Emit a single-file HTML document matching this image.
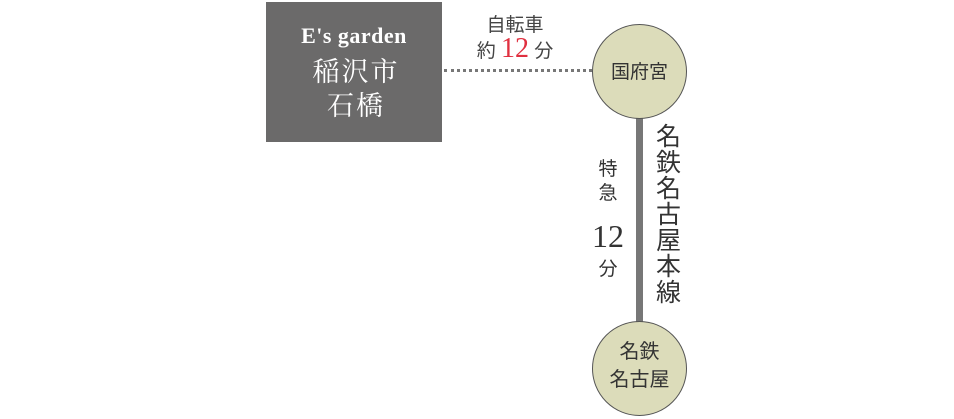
<!DOCTYPE html>
<html><head><meta charset="utf-8"><style>
body{margin:0;width:954px;height:419px;background:#fff;position:relative;overflow:hidden;font-family:"Liberation Serif","Noto Serif CJK SC",serif;}
.a{position:absolute;}
</style></head><body>
<div class="a" style="left:266px;top:2px;width:176px;height:140px;background:#6b6a6a;"></div>
<div class="a" style="left:266px;top:23px;width:176px;text-align:center;color:#fff;font-weight:bold;font-size:22px;letter-spacing:0.5px;">E's garden</div>
<div class="a" style="left:268px;top:55px;width:176px;text-align:center;color:#fff;font-size:27px;line-height:34px;letter-spacing:2px;">稲沢市<br>石橋</div>
<div class="a" style="left:444px;top:69px;width:148px;border-top:3px dotted #777;"></div>
<div class="a" style="left:450px;top:10px;width:130px;text-align:center;color:#444;font-size:19px;font-family:'Liberation Sans','Noto Sans CJK JP',sans-serif;">自転車</div>
<div class="a" style="left:450px;top:33px;width:130px;text-align:center;color:#444;font-size:19px;font-family:'Liberation Sans','Noto Sans CJK JP',sans-serif;">約 <span style="color:#e03040;font-size:28px;font-family:'Liberation Serif',serif;">12</span> 分</div>
<div class="a" style="left:636px;top:116px;width:7px;height:208px;background:#777;"></div>
<div class="a" style="left:592px;top:24px;width:93px;height:93px;border-radius:50%;background:#dcdcba;border:1px solid #555;"></div>
<div class="a" style="left:592px;top:57px;width:95px;text-align:center;color:#333;font-size:19px;font-family:'Liberation Sans','Noto Sans CJK JP',sans-serif;">国府宮</div>
<div class="a" style="left:592px;top:321px;width:93px;height:93px;border-radius:50%;background:#dcdcba;border:1px solid #555;"></div>
<div class="a" style="left:592px;top:338px;width:95px;text-align:center;color:#333;font-size:20px;line-height:28px;font-family:'Liberation Sans','Noto Sans CJK JP',sans-serif;">名鉄<br>名古屋</div>
<div class="a" style="left:656px;top:124px;width:26px;color:#333;font-size:25px;line-height:26px;font-family:'Liberation Sans','Noto Sans CJK JP',sans-serif;">名<br>鉄<br>名<br>古<br>屋<br>本<br>線</div>
<div class="a" style="left:590px;top:158px;width:36px;text-align:center;color:#333;font-size:19px;line-height:24px;font-family:'Liberation Sans','Noto Sans CJK JP',sans-serif;">特<br>急</div>
<div class="a" style="left:584px;top:218px;width:48px;text-align:center;color:#333;font-size:32px;">12</div>
<div class="a" style="left:590px;top:254px;width:36px;text-align:center;color:#333;font-size:19px;font-family:'Liberation Sans','Noto Sans CJK JP',sans-serif;">分</div>
</body></html>
